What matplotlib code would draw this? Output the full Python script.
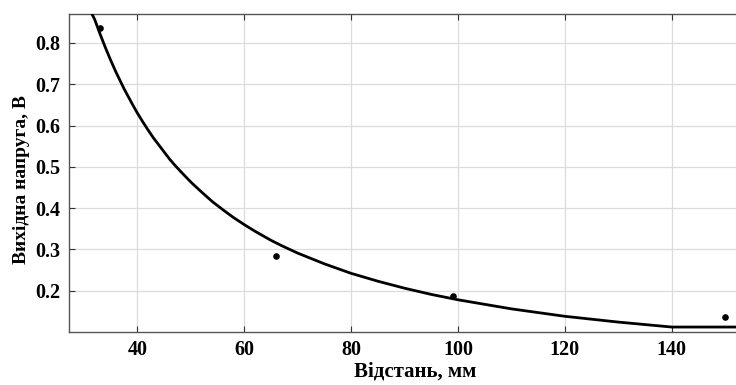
#!/usr/bin/env python3

from matplotlib.pyplot import close, figure, rcParams, savefig

# measured points
DIST_MM = [33, 66, 99, 150]
VOLT_V = [0.835, 0.283, 0.188, 0.137]

# fitted curve
FIT_X = [31.5, 32, 33, 34, 35, 36, 37.5, 39, 40, 41, 42, 43, 44, 45, 46,
         47, 48, 50, 52, 54, 56, 58, 60, 62, 65, 67, 70, 75, 80, 85, 90,
         95, 100, 110, 120, 130, 140, 157]
FIT_Y = [0.870, 0.857, 0.822, 0.789, 0.758, 0.729, 0.689, 0.653, 0.630,
         0.609, 0.589, 0.570, 0.553, 0.536, 0.519, 0.504, 0.490, 0.463,
         0.439, 0.416, 0.396, 0.377, 0.360, 0.344, 0.322, 0.309, 0.291,
         0.265, 0.242, 0.223, 0.206, 0.191, 0.178, 0.156, 0.138, 0.124,
         0.112, 0.112]

X_TICKS = [40, 60, 80, 100, 120, 140]
Y_TICKS = [0.2, 0.3, 0.4, 0.5, 0.6, 0.7, 0.8]

X_LABEL = "Відстань, мм"
Y_LABEL = "Вихідна напруга, В"


def main():
    rcParams["font.family"] = ["Liberation Serif", "DejaVu Serif"]
    rcParams["font.weight"] = "bold"
    fig = figure(figsize=(7.36, 3.85), dpi=100)
    ax = fig.add_axes([69 / 736, 53 / 385, (761 - 69) / 736,
                       (332 - 14) / 385])
    ax.plot(FIT_X, FIT_Y, color="black", linewidth=2.0, zorder=3,
            solid_joinstyle="round")
    ax.scatter(DIST_MM, VOLT_V, s=14, color="black", zorder=4)
    ax.set_xlim(27.2, 156.7)
    ax.set_ylim(0.1, 0.87)
    ax.set_xticks(X_TICKS)
    ax.set_yticks(Y_TICKS)
    ax.set_yticklabels(["{:.1f}".format(v) for v in Y_TICKS])
    ax.grid(True, color="#dcdcdc", linewidth=0.9)
    ax.set_axisbelow(True)
    for side in ("left", "bottom", "top"):
        ax.spines[side].set_color("#555555")
        ax.spines[side].set_linewidth(1.0)
    ax.spines["right"].set_visible(False)
    ax.tick_params(direction="in", top=True, length=4, width=0.8,
                   color="#333333", labelsize=14.5, pad=6)
    ax.set_xlabel(X_LABEL, fontsize=15, fontweight="bold", labelpad=1)
    ax.set_ylabel(Y_LABEL, fontsize=14, fontweight="bold")
    ax.yaxis.set_label_coords(-0.057, 0.478)
    savefig("out.png", dpi=100)
    close()


if __name__ == "__main__":
    main()
